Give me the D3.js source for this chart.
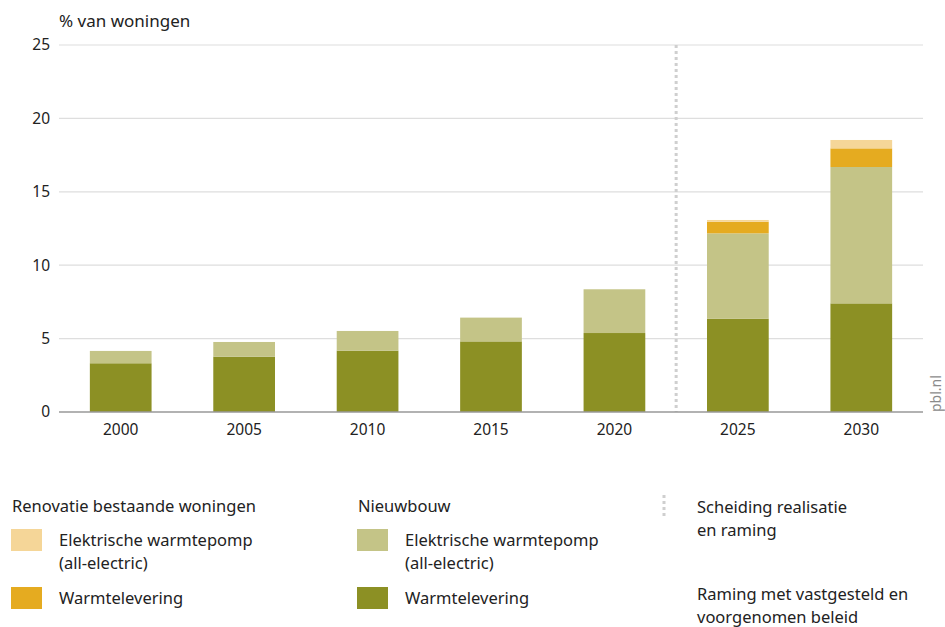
<!DOCTYPE html>
<html>
<head>
<meta charset="utf-8">
<script src="https://cdn.jsdelivr.net/npm/d3@7"></script>
<style>
  html, body { margin: 0; padding: 0; background: #fff; }
  svg { display: block; font-family: "Noto Sans", "Open Sans", sans-serif; }
</style>
</head>
<body>
<svg id="chart" width="945" height="627"></svg>
<script>
// Jaren (categorieën)
const years = ["2000", "2005", "2010", "2015", "2020", "2025", "2030"];

// Nieuwbouw, % van woningen
const nieuwbouwWarmtelevering = [3.32, 3.77, 4.18, 4.81, 5.38, 6.36, 7.40];
const nieuwbouwWarmtepomp     = [0.84, 1.00, 1.34, 1.62, 2.98, 5.81, 9.29];
// Renovatie bestaande woningen, % van woningen
const renovatieWarmtelevering = [0, 0, 0, 0, 0, 0.79, 1.27];
const renovatieWarmtepomp     = [0, 0, 0, 0, 0, 0.12, 0.57];

const yTicks = [0, 5, 10, 15, 20, 25];

const seriesKeys = ["nwWarmte", "nwPomp", "renWarmte", "renPomp"];
const colors = {
  nwWarmte: "#8c9024",
  nwPomp: "#c4c487",
  renWarmte: "#e5ab20",
  renPomp: "#f5d698"
};

const rows = years.map((y, i) => ({
  year: y,
  nwWarmte: nieuwbouwWarmtelevering[i],
  nwPomp: nieuwbouwWarmtepomp[i],
  renWarmte: renovatieWarmtelevering[i],
  renPomp: renovatieWarmtepomp[i]
}));

const svg = d3.select("#chart");
const m = { left: 59, right: 22, top: 45, bottom: 215 };
const W = 945, H = 627;

const x = d3.scaleBand().domain(years).range([m.left, W - m.right]).paddingInner(0.5).paddingOuter(0.25);
const y = d3.scaleLinear().domain([0, 25]).range([H - m.bottom, m.top]);

// Horizontale rasterlijnen
svg.append("g").selectAll("line").data(yTicks.filter(t => t > 0)).join("line")
  .attr("x1", m.left).attr("x2", W - m.right)
  .attr("y1", d => y(d)).attr("y2", d => y(d))
  .attr("stroke", "#dedede").attr("stroke-width", 1.2);

// Y-as labels
const yAxis = d3.axisLeft(y).tickValues(yTicks).tickSize(0).tickPadding(9);
const gy = svg.append("g").attr("transform", `translate(${m.left},0)`).call(yAxis);
gy.select(".domain").remove();
gy.selectAll("text").attr("font-size", 15.5).attr("fill", "#222").attr("font-family", "Noto Sans, sans-serif");

// Gestapelde staven
const stack = d3.stack().keys(seriesKeys);
const stacked = stack(rows);
svg.append("g").selectAll("g").data(stacked).join("g")
  .attr("fill", d => colors[d.key])
  .selectAll("rect").data(d => d).join("rect")
  .attr("x", d => x(d.data.year))
  .attr("width", x.bandwidth())
  .attr("y", d => y(d[1]))
  .attr("height", d => Math.max(0, y(d[0]) - y(d[1])));

// Scheiding realisatie en raming
const sepX = (x("2020") + x.bandwidth() + x("2025")) / 2;
svg.append("line")
  .attr("x1", sepX).attr("x2", sepX)
  .attr("y1", y(25)).attr("y2", y(0))
  .attr("stroke", "#cfcfcf").attr("stroke-width", 3)
  .attr("stroke-dasharray", "3,3");

// X-as
const xAxis = d3.axisBottom(x).tickSize(0).tickPadding(12);
const gx = svg.append("g").attr("transform", `translate(0,${y(0)})`).call(xAxis);
gx.select(".domain").remove();
gx.selectAll("text").attr("font-size", 15.5).attr("fill", "#222").attr("font-family", "Noto Sans, sans-serif");
svg.append("line")
  .attr("x1", m.left).attr("x2", W - m.right)
  .attr("y1", y(0)).attr("y2", y(0))
  .attr("stroke", "#999").attr("stroke-width", 1.6);

// As-titel
svg.append("text").attr("x", 59).attr("y", 27)
  .attr("font-size", 17).attr("fill", "#222").text("% van woningen");

// Bron
svg.append("text")
  .attr("transform", "translate(941,412) rotate(-90)")
  .attr("font-size", 14).attr("fill", "#8a8a8a").text("pbl.nl");

// Legenda
const legend = svg.append("g").attr("font-size", 16.5).attr("fill", "#222");
const cols = [
  { x: 11, title: "Renovatie bestaande woningen", items: [
    { key: "renPomp", lines: ["Elektrische warmtepomp", "(all-electric)"] },
    { key: "renWarmte", lines: ["Warmtelevering"] }
  ]},
  { x: 357, title: "Nieuwbouw", items: [
    { key: "nwPomp", lines: ["Elektrische warmtepomp", "(all-electric)"] },
    { key: "nwWarmte", lines: ["Warmtelevering"] }
  ]}
];
const itemY = [529, 587];
cols.forEach(c => {
  legend.append("text").attr("x", c.x + 1).attr("y", 512).text(c.title);
  c.items.forEach((it, j) => {
    legend.append("rect").attr("x", c.x).attr("y", itemY[j])
      .attr("width", 31).attr("height", 22).attr("fill", colors[it.key]);
    it.lines.forEach((ln, k) => {
      legend.append("text").attr("x", c.x + 48).attr("y", itemY[j] + 17 + k * 23).text(ln);
    });
  });
});

legend.append("line")
  .attr("x1", 664).attr("x2", 664).attr("y1", 495).attr("y2", 518)
  .attr("stroke", "#cfcfcf").attr("stroke-width", 3).attr("stroke-dasharray", "3,3");
[["Scheiding realisatie", 513], ["en raming", 536],
 ["Raming met vastgesteld en", 600], ["voorgenomen beleid", 623]].forEach(([t, yy]) => {
  legend.append("text").attr("x", 697).attr("y", yy).text(t);
});
</script>
</body>
</html>
